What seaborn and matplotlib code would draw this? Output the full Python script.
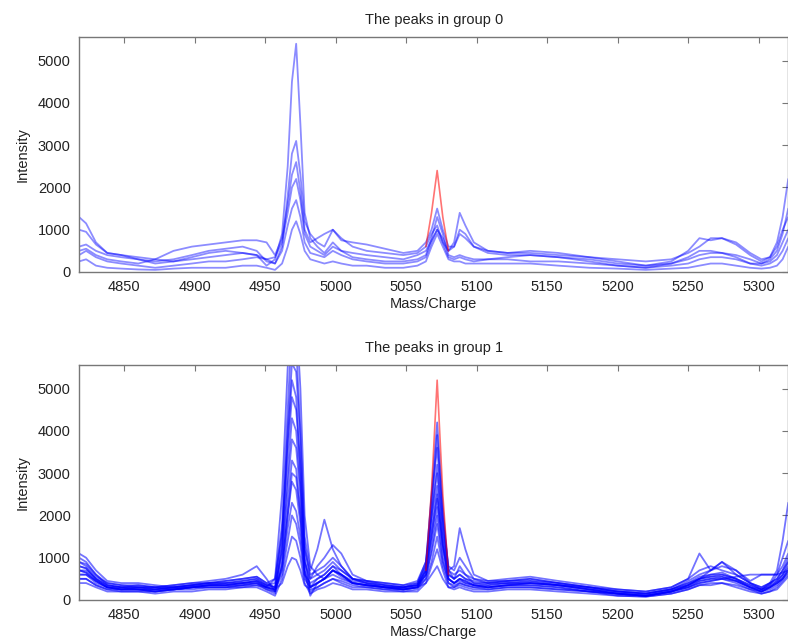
import numpy as np
import pandas as pd
import matplotlib
matplotlib.use("Agg")
import matplotlib.pyplot as plt
import seaborn as sns

# ---------------- data ----------------
MZ = [4818, 4823, 4830, 4838, 4848, 4860, 4872, 4885, 4898, 4910,
      4922, 4934, 4944, 4951, 4957, 4962, 4966, 4969, 4972, 4975,
      4978, 4982, 4987, 4992, 4998, 5004, 5012, 5022, 5035, 5048,
      5058, 5064, 5068, 5072, 5076, 5080, 5084, 5088, 5092, 5098,
      5108, 5122, 5138, 5158, 5180, 5200, 5220, 5238, 5250, 5258,
      5266, 5274, 5284, 5294, 5302, 5308, 5313, 5317, 5321]

# group 0 spectra
g0_a = [1300, 1150, 700, 450, 400, 350, 300, 250, 300, 350,
        400, 450, 400, 150, 300, 900, 2500, 4500, 5400, 3500,
        1400, 800, 600, 450, 700, 500, 350, 300, 250, 250,
        300, 400, 800, 1300, 900, 400, 350, 400, 350, 300,
        300, 300, 250, 250, 200, 150, 100, 200, 350, 500,
        500, 450, 350, 200, 200, 300, 500, 900, 1500]
g0_b = [1000, 950, 650, 450, 400, 300, 250, 300, 400, 500,
        550, 600, 500, 250, 200, 600, 1800, 2800, 3100, 2300,
        1200, 900, 700, 600, 1000, 800, 600, 500, 450, 400,
        450, 600, 900, 1100, 700, 500, 700, 1400, 1100, 700,
        500, 450, 500, 450, 350, 250, 150, 250, 500, 800,
        750, 800, 650, 400, 250, 350, 700, 1300, 2200]
g0_c = [500, 550, 400, 300, 250, 200, 300, 500, 600, 650,
        700, 750, 750, 700, 400, 800, 1600, 2300, 2600, 1900,
        1000, 700, 800, 900, 1000, 750, 700, 650, 550, 450,
        500, 700, 1000, 1500, 1000, 600, 600, 900, 800, 600,
        500, 450, 450, 400, 350, 300, 250, 300, 450, 600,
        800, 800, 700, 450, 300, 350, 600, 1000, 1300]
g0_d = [400, 500, 350, 250, 200, 150, 100, 150, 200, 250,
        250, 300, 350, 300, 200, 500, 1100, 1500, 1700, 1300,
        700, 450, 400, 350, 500, 400, 300, 250, 200, 200,
        250, 350, 700, 1000, 700, 350, 300, 350, 300, 250,
        300, 350, 400, 350, 250, 150, 100, 150, 200, 300,
        350, 350, 300, 200, 150, 200, 300, 500, 800]
g0_e = [250, 300, 150, 100, 80, 60, 50, 80, 100, 100,
        100, 150, 150, 100, 50, 200, 600, 1000, 1200, 900,
        500, 300, 250, 200, 250, 200, 150, 150, 100, 100,
        150, 250, 600, 900, 600, 300, 250, 250, 200, 200,
        200, 200, 200, 150, 100, 80, 50, 80, 100, 150,
        200, 200, 150, 100, 80, 100, 150, 300, 600]
g0_f = [600, 650, 500, 400, 350, 300, 200, 250, 350, 450,
        500, 450, 400, 300, 350, 700, 1400, 2000, 2200, 1700,
        900, 600, 500, 400, 600, 500, 450, 400, 350, 300,
        400, 500, 750, 1000, 800, 500, 600, 1000, 900, 600,
        450, 400, 400, 350, 300, 200, 150, 200, 300, 400,
        450, 450, 400, 300, 200, 250, 400, 700, 1000]

# group 1 spectra
g1_01 = [1000, 900, 600, 350, 300, 350, 300, 250, 300, 350,
         350, 400, 450, 300, 500, 2500, 5500, 7000, 6800, 5000,
         2000, 800, 600, 500, 700, 600, 450, 400, 350, 300,
         400, 800, 2500, 4200, 2200, 700, 500, 600, 500, 450,
         400, 400, 450, 350, 300, 200, 150, 250, 400, 500,
         600, 650, 500, 350, 250, 350, 600, 1000, 1400]
g1_02 = [800, 750, 500, 300, 250, 300, 250, 300, 350, 400,
         400, 450, 500, 350, 400, 1800, 4500, 6500, 6000, 4000,
         1500, 700, 1200, 1900, 1200, 800, 500, 400, 350, 300,
         350, 700, 2200, 3900, 2000, 700, 800, 1700, 1200, 600,
         450, 450, 500, 400, 300, 250, 200, 300, 500, 1100,
         700, 900, 600, 400, 300, 400, 500, 700, 900]
g1_03 = [900, 800, 550, 400, 350, 300, 300, 350, 400, 400,
         450, 500, 550, 400, 300, 1500, 4000, 5600, 5400, 3800,
         1300, 500, 800, 1000, 1300, 1100, 600, 450, 400, 350,
         400, 900, 2400, 3600, 1900, 800, 700, 1000, 800, 500,
         400, 450, 500, 400, 300, 200, 150, 250, 450, 600,
         700, 800, 700, 450, 600, 600, 600, 800, 1100]
g1_04 = [700, 650, 450, 300, 300, 250, 250, 300, 300, 350,
         350, 400, 400, 250, 200, 1300, 3800, 5200, 4800, 3000,
         1000, 300, 500, 600, 800, 700, 500, 400, 300, 300,
         350, 800, 2000, 3200, 1700, 600, 500, 800, 600, 400,
         350, 400, 400, 350, 250, 150, 100, 200, 350, 500,
         550, 600, 500, 300, 200, 300, 450, 600, 800]
g1_05 = [1100, 1000, 700, 450, 400, 400, 350, 300, 350, 400,
         450, 500, 550, 400, 500, 1600, 3500, 4800, 4500, 3200,
         1200, 600, 700, 800, 1000, 800, 500, 450, 400, 350,
         450, 900, 2000, 3000, 1600, 700, 600, 700, 600, 500,
         450, 500, 550, 450, 350, 250, 200, 300, 500, 700,
         800, 700, 600, 400, 300, 400, 500, 700, 1000]
g1_06 = [600, 600, 450, 300, 250, 250, 200, 250, 300, 300,
         300, 350, 400, 300, 250, 1200, 3000, 4300, 4000, 2700,
         900, 300, 400, 500, 700, 600, 400, 350, 300, 250,
         300, 700, 1800, 2700, 1400, 500, 400, 500, 450, 350,
         300, 350, 350, 300, 200, 150, 100, 200, 300, 400,
         450, 500, 400, 250, 200, 250, 350, 500, 700]
g1_07 = [900, 850, 600, 400, 350, 350, 300, 300, 350, 400,
         400, 450, 500, 350, 300, 1100, 2700, 3800, 3600, 2500,
         900, 500, 600, 700, 900, 700, 500, 450, 350, 300,
         350, 700, 1600, 2400, 1300, 600, 500, 600, 500, 400,
         400, 450, 450, 400, 300, 200, 150, 250, 400, 550,
         600, 600, 500, 350, 250, 350, 450, 600, 900]
g1_08 = [700, 700, 500, 350, 300, 300, 300, 350, 400, 450,
         500, 600, 800, 500, 200, 900, 2300, 3300, 3100, 2100,
         700, 100, 400, 500, 600, 500, 400, 350, 300, 250,
         300, 600, 1400, 2200, 1200, 500, 400, 500, 400, 350,
         300, 350, 400, 350, 250, 150, 100, 200, 350, 450,
         500, 550, 450, 300, 200, 300, 400, 550, 750]
g1_09 = [500, 500, 350, 250, 200, 200, 200, 250, 250, 300,
         300, 300, 350, 250, 150, 800, 2000, 2800, 2600, 1800,
         600, 200, 300, 400, 500, 400, 300, 300, 250, 200,
         250, 500, 1200, 2000, 1000, 400, 300, 400, 350, 300,
         250, 300, 300, 250, 200, 100, 80, 150, 250, 350,
         400, 400, 350, 250, 150, 200, 300, 450, 600]
g1_10 = [800, 750, 500, 350, 300, 300, 250, 300, 350, 350,
         400, 400, 450, 350, 300, 700, 1700, 2300, 2100, 1500,
         600, 400, 500, 600, 800, 600, 400, 350, 300, 300,
         350, 600, 1100, 1800, 900, 500, 400, 450, 400, 350,
         350, 400, 400, 350, 250, 200, 150, 250, 350, 500,
         550, 550, 450, 300, 200, 300, 400, 500, 700]
g1_11 = [600, 600, 400, 300, 250, 250, 250, 250, 300, 350,
         350, 350, 400, 300, 250, 600, 1400, 2000, 1800, 1300,
         500, 300, 400, 500, 700, 600, 400, 350, 300, 250,
         300, 500, 900, 1500, 800, 400, 350, 400, 350, 300,
         300, 350, 350, 300, 200, 150, 100, 200, 350, 500,
         700, 900, 700, 400, 250, 300, 400, 500, 650]
g1_12 = [400, 400, 300, 200, 200, 200, 150, 200, 200, 250,
         250, 300, 300, 200, 100, 500, 1100, 1500, 1400, 1000,
         400, 150, 250, 300, 400, 350, 250, 250, 200, 200,
         200, 400, 800, 1200, 700, 300, 250, 300, 250, 200,
         200, 250, 250, 200, 150, 100, 80, 150, 250, 350,
         350, 400, 300, 200, 150, 200, 250, 400, 550]
g1_13 = [500, 500, 350, 250, 250, 250, 200, 250, 300, 300,
         300, 350, 350, 300, 250, 400, 800, 1000, 950, 700,
         350, 250, 300, 400, 500, 450, 350, 300, 250, 250,
         300, 400, 600, 800, 500, 300, 300, 350, 300, 250,
         250, 300, 300, 250, 200, 150, 100, 200, 300, 400,
         450, 500, 550, 600, 600, 600, 600, 650, 700]
g1_14 = [700, 650, 450, 300, 250, 250, 200, 250, 300, 350,
         350, 400, 450, 300, 200, 800, 2000, 3000, 2900, 2000,
         700, 300, 400, 500, 700, 550, 400, 350, 300, 250,
         300, 600, 1500, 2500, 1300, 500, 400, 500, 450, 350,
         300, 350, 400, 350, 250, 150, 100, 200, 300, 450,
         500, 500, 450, 300, 250, 400, 700, 1400, 2300]

# highlighted (red) peak region
RED_MZ = [5064, 5068, 5072, 5076, 5080]
red_g0 = [600, 1400, 2400, 1300, 500]
red_g1 = [700, 2600, 5200, 2500, 600]

group0 = {"a": g0_a, "b": g0_b, "c": g0_c, "d": g0_d, "e": g0_e, "f": g0_f}
group1 = {"01": g1_01, "02": g1_02, "03": g1_03, "04": g1_04, "05": g1_05,
          "06": g1_06, "07": g1_07, "08": g1_08, "09": g1_09, "10": g1_10,
          "11": g1_11, "12": g1_12, "13": g1_13, "14": g1_14}

TITLES = ["The peaks in group 0", "The peaks in group 1"]
XTICKS = [4850, 4900, 4950, 5000, 5050, 5100, 5150, 5200, 5250, 5300]
YTICKS = [0, 1000, 2000, 3000, 4000, 5000]


def to_long(group):
    frames = []
    for name, vals in group.items():
        frames.append(pd.DataFrame({"mz": MZ, "intensity": vals, "spectrum": name}))
    return pd.concat(frames, ignore_index=True)


sns.set_style("white")
plt.rcParams["font.family"] = ["Liberation Sans", "DejaVu Sans"]

fig = plt.figure(figsize=(7.88, 6.43), dpi=100)
ax0 = fig.add_axes([0.1003, 0.577, 0.9, 0.3655])
ax1 = fig.add_axes([0.1003, 0.0669, 0.9, 0.3655])

for ax, group, red, title, alpha in [(ax0, group0, red_g0, TITLES[0], 0.45),
                                     (ax1, group1, red_g1, TITLES[1], 0.55)]:
    df = to_long(group)
    sns.lineplot(data=df, x="mz", y="intensity", units="spectrum",
                 estimator=None, color="blue", alpha=alpha, lw=1.3,
                 ax=ax, legend=False)
    sns.lineplot(x=RED_MZ, y=red, color="red", alpha=0.55, lw=1.2, ax=ax)
    ax.set_xlim(4818, 5321)
    ax.set_ylim(0, 5560)
    ax.set_xticks(XTICKS)
    ax.set_yticks(YTICKS)
    ax.tick_params(direction="in", top=True, right=True, length=4,
                   width=0.8, colors="#777777", labelcolor="#222222",
                   labelsize=10.5, pad=6)
    for s in ax.spines.values():
        s.set_color("#777777")
        s.set_linewidth(1.0)
    ax.set_title(title, fontsize=10.5, color="#222222", pad=9)
    ax.set_xlabel("Mass/Charge", fontsize=10.5, color="#222222", labelpad=2)
    ax.set_ylabel("Intensity", fontsize=10.5, color="#222222", labelpad=6)

fig.savefig("out.png", dpi=100)
